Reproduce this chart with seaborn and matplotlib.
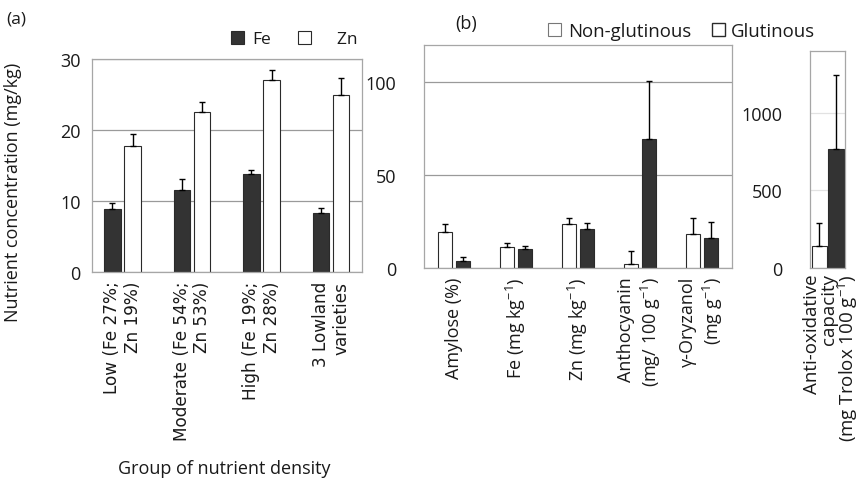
import matplotlib
matplotlib.use("Agg")
import matplotlib.pyplot as plt
import matplotlib.transforms as mtransforms
from matplotlib.patches import Patch
import pandas as pd
import seaborn as sns

# ---------------------------------------------------------------------------
# Data
# ---------------------------------------------------------------------------

# (a) grain Fe / Zn by nutrient-density group
GROUPS  = ["Low (Fe 27%;\nZn 19%)", "Moderate (Fe 54%;\nZn 53%)",
           "High (Fe 19%;\nZn 28%)", "3 Lowland\nvarieties"]
FE_MEAN = [8.9, 11.6, 13.8, 8.4]
FE_ERR  = [0.8, 1.5, 0.6, 0.6]
ZN_MEAN = [17.7, 22.5, 27.0, 25.0]
ZN_ERR  = [1.8, 1.5, 1.4, 2.4]

# (b) non-glutinous vs glutinous grain quality
TRAITS       = ["Amylose (%)", "Fe (mg kg$^{-1}$)", "Zn (mg kg$^{-1}$)",
                "Anthocyanin\n(mg/ 100 g$^{-1}$)", "γ-Oryzanol\n(mg g$^{-1}$)"]
NONGLUT_MEAN = [19.5, 11.5, 23.8, 2.3, 18.5]
NONGLUT_ERR  = [4.0, 1.9, 3.3, 7.0, 8.2]
GLUT_MEAN    = [3.6, 10.4, 20.8, 69.2, 16.0]
GLUT_ERR     = [2.0, 1.6, 3.4, 31.3, 8.9]

# (b, right) anti-oxidative capacity, own scale
AOX_TRAIT        = ["Anti-oxidative\ncapacity\n(mg Trolox 100 g$^{-1}$)"]
AOX_NONGLUT      = [142]
AOX_NONGLUT_ERR  = [150]
AOX_GLUT         = [769]
AOX_GLUT_ERR     = [477]

DARK  = "#333333"
WHITE = "#ffffff"
EDGE  = "#2a2a2a"
TXT   = "#1a1a1a"

# ---------------------------------------------------------------------------
# Style
# ---------------------------------------------------------------------------
sns.set_style("white")
plt.rcParams["font.family"] = ["Open Sans", "DejaVu Sans"]
plt.rcParams["mathtext.fontset"] = "custom"
plt.rcParams["mathtext.rm"] = "Open Sans"
plt.rcParams["mathtext.it"] = "Open Sans"
plt.rcParams["text.color"] = TXT
plt.rcParams["axes.labelcolor"] = TXT
plt.rcParams["xtick.color"] = TXT
plt.rcParams["ytick.color"] = TXT


def grouped_bars(ax, cats, names, means, errs, colors, width, gap):
    """Two-level hue barplot with one-sided (upper) error bars."""
    df = pd.DataFrame({
        "cat":  cats * 2,
        "kind": [names[0]] * len(cats) + [names[1]] * len(cats),
        "mean": means[0] + means[1],
    })
    sns.barplot(data=df, x="cat", y="mean", hue="kind", hue_order=names,
                palette=dict(zip(names, colors)), errorbar=None,
                width=width, gap=gap, legend=False,
                edgecolor=EDGE, linewidth=0.8, saturation=1, ax=ax)
    for container, err in zip(ax.containers, errs):
        for bar, e in zip(container, err):
            x = bar.get_x() + bar.get_width() / 2
            ax.errorbar(x, bar.get_height(), yerr=[[0], [e]], fmt="none",
                        ecolor="black", elinewidth=1.0, capsize=2.2,
                        capthick=1.0, zorder=3)


def frame(ax, grid_color="#9a9a9a"):
    for s in ax.spines.values():
        s.set_color("#a6a6a6")
        s.set_linewidth(0.9)
    ax.yaxis.grid(True, color=grid_color, linewidth=0.9)
    ax.set_axisbelow(True)
    ax.tick_params(length=0)
    ax.set_xlabel("")
    ax.set_ylabel("")


fig = plt.figure(figsize=(8.59, 4.81), dpi=100)

# ── (a) ────────────────────────────────────────────────────────────────
ax_a = fig.add_axes([0.107, 0.432, 0.314, 0.443])
grouped_bars(ax_a, GROUPS, ["Fe", "Zn"], [FE_MEAN, ZN_MEAN], [FE_ERR, ZN_ERR],
             [DARK, WHITE], width=0.58, gap=0.18)
frame(ax_a)
ax_a.set_ylim(0, 30)
ax_a.set_yticks([0, 10, 20, 30])
ax_a.tick_params(axis="y", labelsize=13, pad=8)
ax_a.set_xticks(range(len(GROUPS)))
ax_a.set_xticklabels(GROUPS, rotation=90, ha="center", va="top",
                     multialignment="right", fontsize=12.2,
                     family="DejaVu Sans")
ax_a.tick_params(axis="x", pad=6)
ax_a.set_ylabel("Nutrient concentration (mg/kg)", fontsize=13)
ax_a.yaxis.set_label_coords(-0.26, 0.378)
fig.text(224 / 859, 1 - 469 / 481, "Group of nutrient density",
         ha="center", va="center", fontsize=13)

fig.legend(handles=[Patch(facecolor=DARK, edgecolor=EDGE, linewidth=0.8),
                    Patch(facecolor=WHITE, edgecolor=EDGE, linewidth=0.8)],
           labels=["Fe", "    Zn"], loc="center left",
           bbox_to_anchor=(224 / 859, 1 - 40 / 481), ncol=2, frameon=False,
           fontsize=12.5, handlelength=0.75, handleheight=0.75,
           handletextpad=0.45, columnspacing=1.6, borderaxespad=0)

fig.text(6 / 859, 1 - 19 / 481, "(a)", fontsize=12.5, va="center")

# ── (b) ────────────────────────────────────────────────────────────────
ax_b = fig.add_axes([0.4936, 0.441, 0.3586, 0.463])
grouped_bars(ax_b, TRAITS, ["Non-glutinous", "Glutinous"],
             [NONGLUT_MEAN, GLUT_MEAN], [NONGLUT_ERR, GLUT_ERR],
             [WHITE, DARK], width=0.57, gap=0.2)
frame(ax_b)
ax_b.set_ylim(0, 120)
ax_b.set_yticks([0, 50, 100])
ax_b.tick_params(axis="y", labelsize=13, pad=20)
ax_b.set_xticks(range(len(TRAITS)))
ax_b.set_xticklabels(TRAITS, rotation=90, ha="center", va="top",
                     multialignment="right", fontsize=13)
ax_b.tick_params(axis="x", pad=6)

fig.text(455 / 859, 1 - 24 / 481, "(b)", fontsize=13, va="center")
fig.legend(handles=[Patch(facecolor=WHITE, edgecolor="#777777", linewidth=0.8),
                    Patch(facecolor=WHITE, edgecolor=EDGE, linewidth=1.0)],
           labels=["Non-glutinous", "Glutinous"], loc="center left",
           bbox_to_anchor=(541 / 859, 1 - 32 / 481), ncol=2, frameon=False,
           fontsize=13.4, handlelength=0.7, handleheight=0.7,
           handletextpad=0.35, columnspacing=1.1, borderaxespad=0)

# ── (b, right) ─────────────────────────────────────────────────────────
ax_c = fig.add_axes([0.943, 0.441, 0.041, 0.451])
grouped_bars(ax_c, AOX_TRAIT, ["Non-glutinous", "Glutinous"],
             [AOX_NONGLUT, AOX_GLUT], [AOX_NONGLUT_ERR, AOX_GLUT_ERR],
             [WHITE, DARK], width=0.92, gap=0.08)
frame(ax_c, grid_color="#e2e2e2")
ax_c.set_ylim(0, 1400)
ax_c.set_yticks([0, 500, 1000])
ax_c.tick_params(axis="y", labelsize=13, pad=20)
ax_c.set_xticks([0])
ax_c.set_xticklabels(AOX_TRAIT, rotation=90, ha="center", va="top",
                     multialignment="right", fontsize=13.5, linespacing=0.92)
ax_c.tick_params(axis="x", pad=4)
shift = mtransforms.ScaledTranslation(4 / 100, 0, fig.dpi_scale_trans)
for lab in ax_c.get_xticklabels():
    lab.set_transform(lab.get_transform() + shift)

fig.savefig("out.png", dpi=100)
